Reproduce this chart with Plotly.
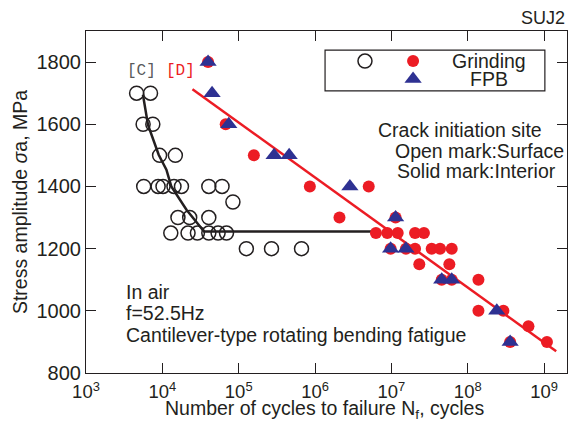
import plotly.graph_objects as go

# ---- data -------------------------------------------------------------
# Grinding, surface initiation (open circles)
open_N = [4.6e3, 7.0e3,
          5.6e3, 7.5e3,
          9.2e3, 1.48e4,
          5.7e3, 8.8e3, 1.02e4, 1.42e4, 1.78e4, 4.06e4, 6.05e4,
          8.4e4,
          1.6e4, 2.28e4, 4.06e4,
          1.29e4, 2.17e4, 2.88e4, 4.06e4, 5.37e4, 6.92e4,
          1.26e5, 2.69e5, 6.65e5]
open_S = [1700, 1700,
          1600, 1600,
          1500, 1500,
          1400, 1400, 1400, 1400, 1400, 1400, 1400,
          1350,
          1300, 1300, 1300,
          1250, 1250, 1250, 1250, 1250, 1250,
          1200, 1200, 1200]

# Grinding, interior initiation (solid circles)
solid_N = [3.97e4, 6.76e4, 1.58e5, 8.55e5, 5.05e6,
           2.09e6, 1.135e7,
           6.27e6, 8.83e6, 1.21e7, 2.04e7, 2.67e7,
           9.77e6, 1.55e7, 2.04e7, 3.37e7, 4.34e7, 6.17e7,
           2.32e7, 5.74e7,
           4.56e7, 6.17e7, 1.38e8,
           1.38e8, 2.93e8,
           6.24e8,
           3.59e8, 1.09e9]
solid_S = [1800, 1600, 1500, 1400, 1400,
           1300, 1300,
           1250, 1250, 1250, 1250, 1250,
           1200, 1200, 1200, 1200, 1200, 1200,
           1150, 1150,
           1100, 1100, 1100,
           1000, 1000,
           950,
           900, 900]

# FPB, interior initiation (solid triangles)
fpb_N = [3.97e4, 4.48e4, 7.41e4, 2.91e5, 4.58e5, 2.86e6, 1.135e7,
         9.77e6, 1.55e7, 4.56e7, 6.17e7, 2.40e8, 3.59e8]
fpb_S = [1800, 1700, 1600, 1500, 1500, 1400, 1300,
         1200, 1200, 1100, 1100, 1000, 900]

# S-N curves: [C] surface, [D] interior
curve_c_N = [5.57e3, 6.49e3, 8.95e3, 1.13e4, 1.31e4, 2.07e4, 3.52e4, 5.51e6]
curve_c_S = [1695, 1598, 1502, 1454, 1400, 1325, 1255, 1255]
curve_d_N = [2.48e4, 1.44e9]
curve_d_S = [1713, 870]

x_tick_vals = [1e3, 1e4, 1e5, 1e6, 1e7, 1e8, 1e9]
x_tick_text = ["10<sup>3</sup>", "10<sup>4</sup>", "10<sup>5</sup>", "10<sup>6</sup>",
               "10<sup>7</sup>", "10<sup>8</sup>", "10<sup>9</sup>"]
y_tick_vals = [800, 1000, 1200, 1400, 1600, 1800]

# ---- styling ------------------------------------------------------------
RED = "#ec1c24"
NAVY = "#2e3192"
INK = "#231f20"
FONT = "Liberation Sans, Arial, Helvetica, sans-serif"
MONO = "Liberation Mono, DejaVu Sans Mono, monospace"
TXT = 19.5

fig = go.Figure()

fig.add_trace(go.Scatter(x=curve_c_N, y=curve_c_S, mode="lines",
                         line=dict(color=INK, width=2.5), hoverinfo="skip"))
fig.add_trace(go.Scatter(x=curve_d_N, y=curve_d_S, mode="lines",
                         line=dict(color=RED, width=2.5), hoverinfo="skip"))
fig.add_trace(go.Scatter(x=open_N, y=open_S, mode="markers",
                         marker=dict(symbol="circle-open", size=14, color=INK,
                                     line=dict(width=1.5, color=INK))))
fig.add_trace(go.Scatter(x=solid_N, y=solid_S, mode="markers",
                         marker=dict(symbol="circle", size=12, color=RED, line=dict(width=0))))
fig.add_trace(go.Scatter(x=fpb_N, y=fpb_S, mode="markers",
                         marker=dict(symbol="triangle-up", size=15, color=NAVY, line=dict(width=0))))

# legend key markers on an auxiliary unit axis laid over the plot area
fig.add_trace(go.Scatter(x=[0.58], y=[0.912], xaxis="x2", yaxis="y2", mode="markers",
                         marker=dict(symbol="circle-open", size=14, color=INK,
                                     line=dict(width=1.5, color=INK))))
fig.add_trace(go.Scatter(x=[0.68], y=[0.912], xaxis="x2", yaxis="y2", mode="markers",
                         marker=dict(symbol="circle", size=12, color=RED)))
fig.add_trace(go.Scatter(x=[0.68], y=[0.86], xaxis="x2", yaxis="y2", mode="markers",
                         marker=dict(symbol="triangle-up", size=15, color=NAVY)))

axis_common = dict(showline=True, linecolor=INK, linewidth=1.2, mirror="ticks",
                   ticks="inside", ticklen=10, tickwidth=1.2, tickcolor=INK,
                   showgrid=False, zeroline=False)

fig.update_layout(
    width=572, height=421,
    margin=dict(l=86, r=5, t=31, b=48),
    paper_bgcolor="white", plot_bgcolor="white",
    showlegend=False,
    font=dict(family=FONT, color=INK),
    xaxis=dict(type="log", range=[3, 9.3], tickvals=x_tick_vals, ticktext=x_tick_text,
               ticklabelstandoff=2, tickfont=dict(family=FONT, size=18.5, color=INK),
               **axis_common),
    yaxis=dict(range=[800, 1900], tickvals=y_tick_vals,
               tickfont=dict(family=FONT, size=20, color=INK), **axis_common),
    xaxis2=dict(range=[0, 1], overlaying="x", visible=False),
    yaxis2=dict(range=[0, 1], overlaying="y", visible=False),
    shapes=[dict(type="rect", xref="paper", yref="paper", x0=0.497, x1=0.954, y0=0.825, y1=0.944,
                 line=dict(color=INK, width=1.2), fillcolor="rgba(0,0,0,0)")],
)

def note(text, x, y, size=TXT, xanchor="left", color=INK, family=FONT, angle=0):
    fig.add_annotation(text=text, x=x, y=y, xref="paper", yref="paper", showarrow=False,
                       xanchor=xanchor, yanchor="middle", textangle=angle,
                       font=dict(family=family, size=size, color=color))

note("Grinding", 0.838, 0.912, xanchor="center")
note("FPB", 0.838, 0.860, xanchor="center")
note("Crack initiation site", 0.603, 0.711)
note("Open mark:Surface", 0.638, 0.650)
note("Solid mark:Interior", 0.642, 0.591)
note("In air", 0.079, 0.237)
note("f=52.5Hz", 0.079, 0.175)
note("Cantilever-type rotating bending fatigue", 0.079, 0.111)
note("[C]", 0.115, 0.882, size=16, xanchor="center", color="#58595b", family=MONO)
note("[D]", 0.196, 0.882, size=16, xanchor="center", color=RED, family=MONO)
note("SUJ2", 1.0, 1.038, size=18, xanchor="right")
note("Number of cycles to failure N<sub>f</sub>, cycles", 0.495, -0.107, xanchor="center")
note("Stress amplitude <i>σ</i>a, MPa", -0.137, 0.5, xanchor="center", angle=-90)

fig.write_html("out.html")
